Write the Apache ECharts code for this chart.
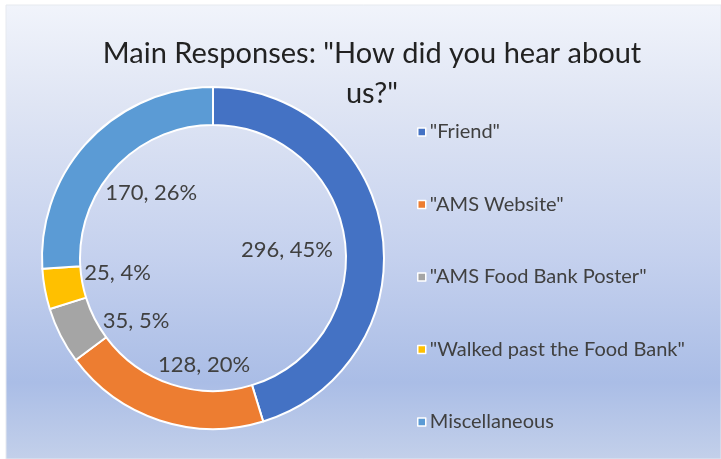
<!DOCTYPE html>
<html>
<head>
<meta charset="utf-8">
<script src="https://cdn.jsdelivr.net/npm/echarts@6/dist/echarts.min.js"></script>
<style>
  html, body { margin: 0; padding: 0; background: #ffffff; }
  #chart { width: 721px; height: 459px; }
</style>
</head>
<body>
<div id="chart"></div>
<script>
// Survey answers to "How did you hear about us?"
const categories = ['"Friend"', '"AMS Website"', '"AMS Food Bank Poster"', '"Walked past the Food Bank"', 'Miscellaneous'];
const responses = [296, 128, 35, 25, 170];
const percentLabels = ['45%', '20%', '5%', '4%', '26%'];
const sliceColors = ['#4472C4', '#ED7D31', '#A5A5A5', '#FFC000', '#5B9BD5'];

const FONT = 'Lato, "Open Sans", sans-serif';
const TEXT = '#404040';
const CX = 213, CY = 258;

// small hand adjustments of each value label away from its mid-angle spot
const labelNudge = [[-18, 6], [20, 19], [6, 21], [-4, -2], [6, -1]];

const chart = echarts.init(document.getElementById('chart'), null, { renderer: 'canvas' });

const ringData = categories.map((name, i) => ({
  name: name,
  value: responses[i],
  itemStyle: { color: sliceColors[i] }
}));

const labelData = categories.map((name, i) => ({
  name: name,
  value: responses[i],
  label: {
    formatter: responses[i] + ', ' + percentLabels[i],
    offset: labelNudge[i]
  }
}));

chart.setOption({
  backgroundColor: '#ffffff',
  animation: false,
  color: sliceColors,
  graphic: [{
    type: 'rect',
    z: -10,
    shape: { x: 6, y: 5, width: 715, height: 454 },
    style: {
      stroke: '#e6e9ef',
      lineWidth: 1,
      fill: new echarts.graphic.LinearGradient(0, 0, 0, 1, [
        { offset: 0, color: '#f1f4fb' },
        { offset: 0.22, color: '#dfe5f4' },
        { offset: 0.55, color: '#c5d1ee' },
        { offset: 0.83, color: '#aabde6' },
        { offset: 1, color: '#c3d0ea' }
      ])
    }
  }],
  title: {
    text: 'Main Responses: "How did you hear about\nus?"',
    left: 367,
    top: 29,
    textAlign: 'center',
    textStyle: {
      fontFamily: FONT,
      fontSize: 29,
      fontWeight: 'normal',
      color: '#222222',
      lineHeight: 40
    }
  },
  legend: {
    orient: 'vertical',
    left: 412,
    top: 115,
    data: categories,
    icon: 'rect',
    itemWidth: 8,
    itemHeight: 8,
    itemGap: 48.5,
    itemStyle: { borderColor: '#ffffff', borderWidth: 1.5 },
    textStyle: {
      fontFamily: FONT,
      fontSize: 20,
      color: TEXT,
      lineHeight: 24,
      padding: [0, 0, 0, -1]
    },
    selectedMode: false
  },
  series: [
    {
      type: 'pie',
      center: [CX, CY],
      radius: [133, 171],
      startAngle: 90,
      clockwise: true,
      silent: true,
      itemStyle: { borderColor: '#ffffff', borderWidth: 2 },
      label: { show: false },
      labelLine: { show: false },
      data: ringData
    },
    {
      // invisible ring used only to place the value labels inside the hole
      type: 'pie',
      center: [CX, CY],
      radius: [60, 120],
      startAngle: 90,
      clockwise: true,
      silent: true,
      itemStyle: { color: 'rgba(0,0,0,0)' },
      label: {
        show: true,
        position: 'inside',
        fontFamily: FONT,
        fontSize: 22,
        color: TEXT
      },
      labelLine: { show: false },
      data: labelData
    }
  ]
});
</script>
</body>
</html>
